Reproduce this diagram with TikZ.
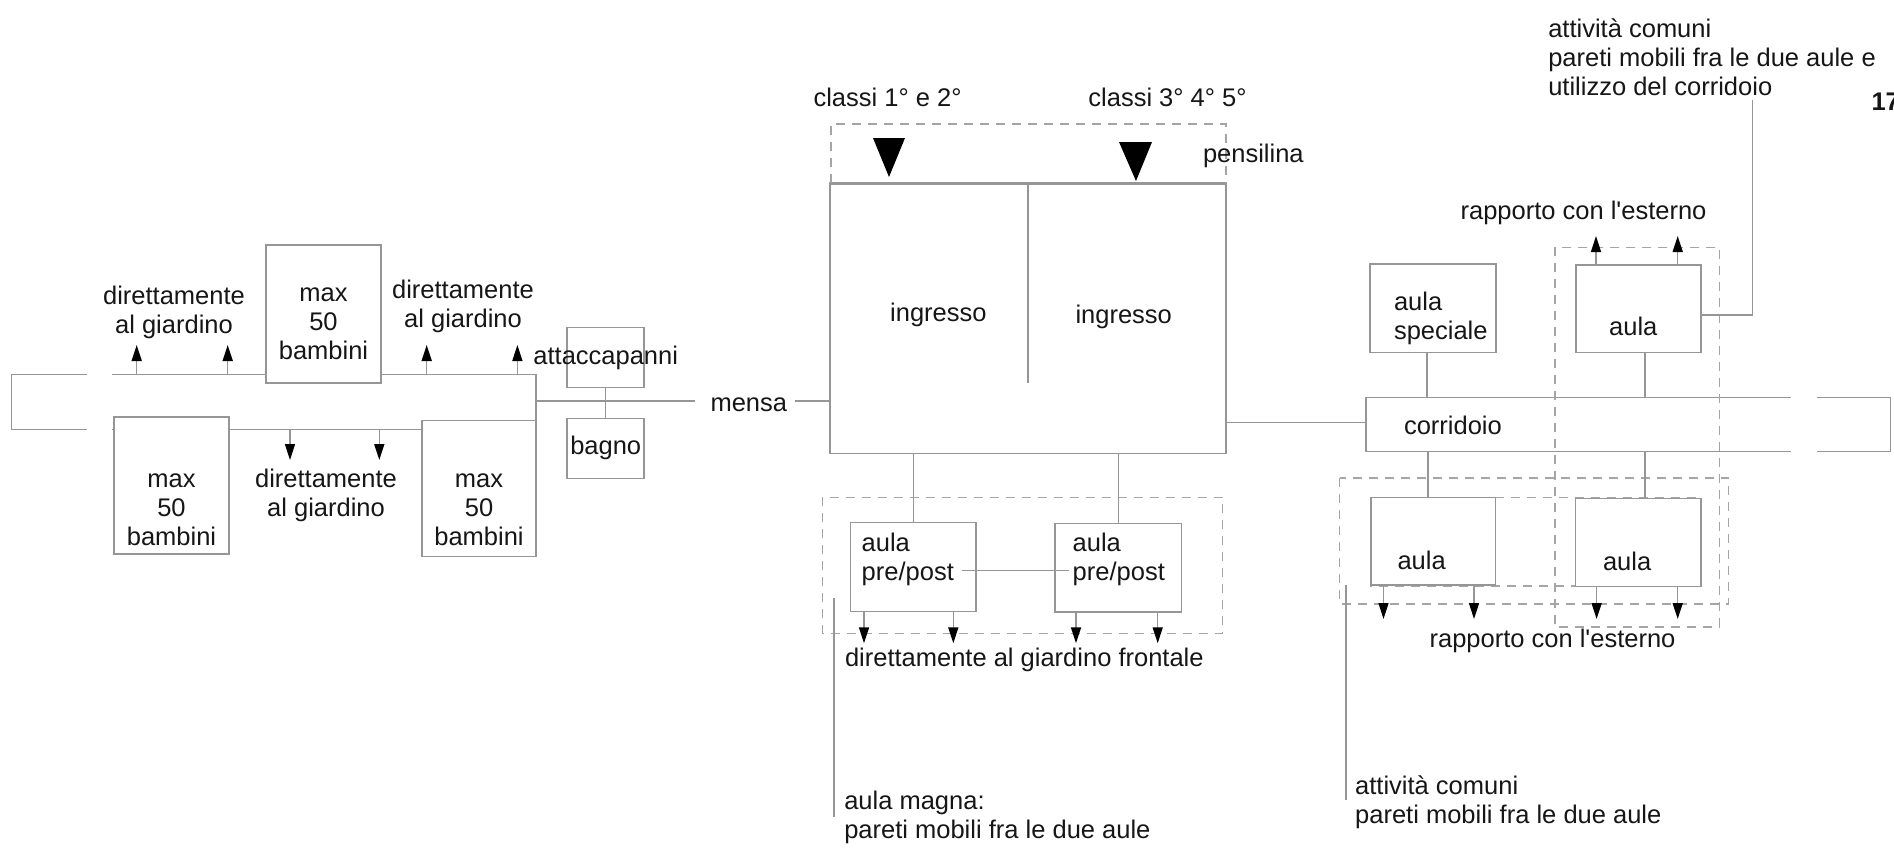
\documentclass[tikz,border=0pt]{standalone}
\usepackage{fontspec}
\setmainfont{Liberation Sans}
\usetikzlibrary{arrows.meta}
\definecolor{ln}{RGB}{150,150,150}
\definecolor{dl}{RGB}{165,165,165}
\definecolor{tx}{RGB}{22,22,22}
\begin{document}
\begin{tikzpicture}[x=1bp,y=-1bp,
  every node/.style={font=\fontsize{25.5bp}{29bp}\selectfont, text=tx, inner sep=0pt, outer sep=0pt},
  room/.style={draw=ln, line width=1.5bp, fill=white},
  ln/.style={draw=ln, line width=1.5bp},
  dsh/.style={draw=dl, line width=1.5bp, dash pattern=on 9bp off 7bp},
  arr/.style={draw=ln, line width=1.5bp, -{Triangle[width=10bp,length=16bp,color=black,fill=black]}},
  lbl/.style={align=center},
  lft/.style={align=left, anchor=west},
]
\useasboundingbox[fill=white] (0,0) rectangle (1894,851);

% ---------- left wing: corridor ----------
\draw[ln] (87.3,374.3) -- (11.7,374.3) -- (11.7,429.3) -- (87.3,429.3);
\draw[ln] (111.7,374.3) -- (536,374.3) -- (536,429.3);
\draw[ln] (111.7,429.3) -- (421.7,429.3);
\coordinate (cR) at (536,401);

\node[room, minimum width=115bp, minimum height=138bp] (tb) at (323.5,314) {};
\node[room, minimum width=115bp, minimum height=137bp] (bl) at (171.5,485.5) {};
\node[room, minimum width=114bp, minimum height=136bp] (br) at (479,488.5) {};
\node[lbl] (tbT) at (323.5,324) {max\\50\\bambini};
\node[lbl] (blT) at (171.5,509.3) {max\\50\\bambini};
\node[lbl] (brT) at (479,509.3) {max\\50\\bambini};

\node[lbl] (dirL) at (174,312.5) {direttamente\\al giardino};
\node[lbl] (dirR) at (463,306) {direttamente\\al giardino};
\node[lbl] (dirB) at (326,495) {direttamente\\al giardino};

\draw[arr] (136.7,374.3) -- (136.7,345);
\draw[arr] (227.7,374.3) -- (227.7,345);
\draw[arr] (426.7,374.3) -- (426.7,345);
\draw[arr] (517.4,374.3) -- (517.4,345);
\draw[arr] (290,429.3) -- (290,460);
\draw[arr] (379.3,429.3) -- (379.3,460);

% ---------- services ----------
\node[room, minimum width=77bp, minimum height=60bp] (att) at (605.7,357.3) {};
\node (attT) at (605.7,358.3) {attaccapanni};
\node[room, minimum width=77bp, minimum height=60bp] (bagno) at (605.7,448.3) {bagno};
\draw[ln] (att.south) -- (bagno.north);

% ---------- ingresso ----------
\node[room, minimum width=396bp, minimum height=270.3bp] (ing) at (1028,318.15) {};
\draw[ln] (1028,183) -- (1028,383);
\draw[draw=ln, line width=3bp] (ing.north west) -- (ing.north east);
\draw[dsh] (831,183) -- (831,124) -- (1226,124) -- (1226,183);
\fill[black] (873,138) -- (905,138) -- (889,177) -- cycle;
\fill[black] (1119,142) -- (1152,142) -- (1136,181) -- cycle;
\node (cl12) at (887.5,97) {classi 1° e 2°};
\node (cl345) at (1167.5,97) {classi 3° 4° 5°};
\node[anchor=west] (pens) at (1203,156) {pensilina};
\node (ingL) at (938.4,315) {ingresso};
\node (ingR) at (1123.7,316.7) {ingresso};

\node (mensa) at (748.8,405) {mensa};
\draw[ln] (cR) -- (695,401);
\draw[ln] (795,401) -- (ing.west |- cR);

% ---------- aule pre/post ----------
\draw[dsh] (822.7,497.3) rectangle (1222.7,633.3);
\node[room, minimum width=125.3bp, minimum height=89bp] (ppL) at (913.35,567.2) {};
\node[room, minimum width=126.7bp, minimum height=88.7bp] (ppR) at (1118.35,567.65) {};
\draw[ln] (ppL.north) -- (ppL.north |- ing.south);
\draw[ln] (ppR.north) -- (ppR.north |- ing.south);
\node[lft] (ppLT) at (861.7,559.5) {aula\\pre/post};
\node[lft] (ppRT) at (1072.7,559.5) {aula\\pre/post};
\draw[ln] (961.7,570.7) -- (1069.3,570.7);
\draw[arr] (864,611.7) -- (864,643.3);
\draw[arr] (953.3,611.7) -- (953.3,643.3);
\draw[arr] (1076,612) -- (1076,643.3);
\draw[arr] (1157.7,612) -- (1157.7,643.3);
\node[anchor=west] (front) at (845,660) {direttamente al giardino frontale};
\draw[ln] (834,598.3) -- (834,816.7);
\node[lft] (magna) at (844.3,817.5) {aula magna:\\pareti mobili fra le due aule};

% ---------- right wing ----------
\draw[ln] (1226,422.7) -- (1366,422.7);
\draw[ln] (1790.7,397.7) -- (1366,397.7) -- (1366,451.7) -- (1790.7,451.7);
\draw[ln] (1816.6,397.7) -- (1890.3,397.7) -- (1890.3,451.7) -- (1816.6,451.7);
\node[anchor=west] (corr) at (1404,425) {corridoio};

\draw[dsh] (1555,247.3) rectangle (1719.5,627);
\draw[dsh] (1339.5,478) rectangle (1728.5,604);
\draw[dsh] (1371,497.5) rectangle (1701,586);

\node[room, minimum width=126bp, minimum height=88.7bp] (asp) at (1433,308.35) {};
\node[lft] (aspT) at (1394,318.4) {aula\\speciale};
\draw[ln] (1427,352.7) -- (1427,397.7);

\node[room, minimum width=125bp, minimum height=87.7bp] (at) at (1638.5,308.85) {};
\node (atT) at (1633.3,326) {aula};
\draw[ln] (1645,352.7) -- (1645,397.7);
\draw[arr] (1596,265) -- (1596,236);
\draw[arr] (1677.7,265) -- (1677.7,236);
\node (estT) at (1583.5,213.3) {rapporto con l\textquotesingle esterno};
\draw[ln] (1701,315) -- (1752.7,315) -- (1752.7,100);
\node[lft] (comT) at (1548.3,57.3) {attività comuni\\pareti mobili fra le due aule e\\utilizzo del corridoio};
\node[anchor=west, font=\fontsize{25.5bp}{29bp}\selectfont\bfseries] (pg) at (1871.5,102) {17};

\node[room, minimum width=124.4bp, minimum height=87.7bp] (abL) at (1433.2,541.15) {};
\node[room, minimum width=125.3bp, minimum height=88.4bp] (abR) at (1638.35,542.5) {};
\node[anchor=west] (abLT) at (1397.5,560) {aula};
\node[anchor=west] (abRT) at (1603,561.7) {aula};
\draw[ln] (1428,451.7) -- (1428,497.3);
\draw[ln] (1645,451.7) -- (1645,498.3);
\draw[arr] (1383.5,585) -- (1383.5,619);
\draw[arr] (1474,585) -- (1474,619);
\draw[arr] (1596.6,586.7) -- (1596.6,619);
\draw[arr] (1677.7,586.7) -- (1677.7,619);
\node (estB) at (1552.5,641) {rapporto con l\textquotesingle esterno};
\draw[ln] (1345.8,584.5) -- (1345.8,800);
\node[lft] (comB) at (1355.2,802.5) {attività comuni\\pareti mobili fra le due aule};
\end{tikzpicture}
\end{document}
